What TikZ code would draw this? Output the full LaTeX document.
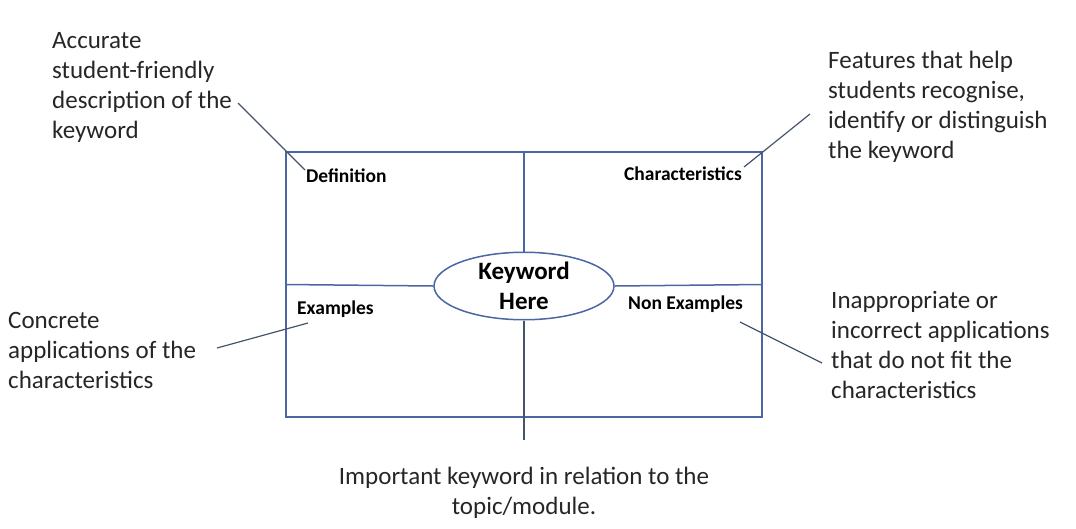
\documentclass[tikz,border=0pt]{standalone}
\usepackage{fontspec}
\setmainfont{Carlito}
\usetikzlibrary{shapes.geometric}
\definecolor{boxblue}{HTML}{4A66A3}
\definecolor{callgray}{HTML}{44546A}
\begin{document}
\begin{tikzpicture}[x=1pt,y=-1pt,
  callout/.style={font=\fontsize{25}{30}\selectfont, align=left, inner sep=0pt, text=black!85},
  lbl/.style={font=\fontsize{19.5}{22}\selectfont\bfseries, inner sep=0pt},
  cline/.style={draw=callgray, line width=1.2pt},
  bline/.style={draw=boxblue, line width=1.5pt}]
\useasboundingbox (0,0) rectangle (1076,528);
\node[bline, minimum width=476pt, minimum height=265pt, inner sep=0pt] (box) at (524,284.5) {};
\node[ellipse, draw=boxblue, line width=1.5pt, minimum width=180pt, minimum height=60pt, inner sep=0pt,
  font=\fontsize{25}{30}\selectfont\bfseries, align=center] (kw) at (524,286) {Keyword\\Here};
\draw[bline] (box.north) -- (kw.north);
\draw[bline] (box.west) -- (kw.west);
\draw[bline] (kw.east) -- (box.east);
\coordinate (bend) at (524,440);
\draw[draw=callgray, line width=1.5pt] (kw.south) -- (bend);

\node[lbl, anchor=west] (def) at (306,176) {Definition};
\node[lbl, anchor=east] (cha) at (742,174) {Characteristics};
\node[lbl, anchor=west] (exa) at (297,309) {Examples};
\node[lbl, anchor=west] (non) at (628,304) {Non Examples};

\node[callout, anchor=west] (tdef) at (52,87) {Accurate\\student-friendly\\description of the\\keyword};
\node[callout, anchor=west] (tcha) at (828,107) {Features that help\\students recognise,\\identify or distinguish\\the keyword};
\node[callout, anchor=west] (texa) at (8,350.5) {Concrete\\applications of the\\characteristics};
\node[callout, anchor=west] (tnon) at (831,345) {Inappropriate or\\incorrect applications\\that do not fit the\\characteristics};
\node[callout, align=center] (timp) at (524,492.5) {Important keyword in relation to the\\topic/module.};

\coordinate (a1) at (238,103); \coordinate (a2) at (305,170);
\coordinate (b1) at (810,114); \coordinate (b2) at (744,167);
\coordinate (c1) at (217,348); \coordinate (c2) at (308,323);
\coordinate (d1) at (740,322); \coordinate (d2) at (822,363);
\draw[cline] (a1) -- (a2);
\draw[cline] (b1) -- (b2);
\draw[cline] (c1) -- (c2);
\draw[cline] (d1) -- (d2);
\end{tikzpicture}
\end{document}
